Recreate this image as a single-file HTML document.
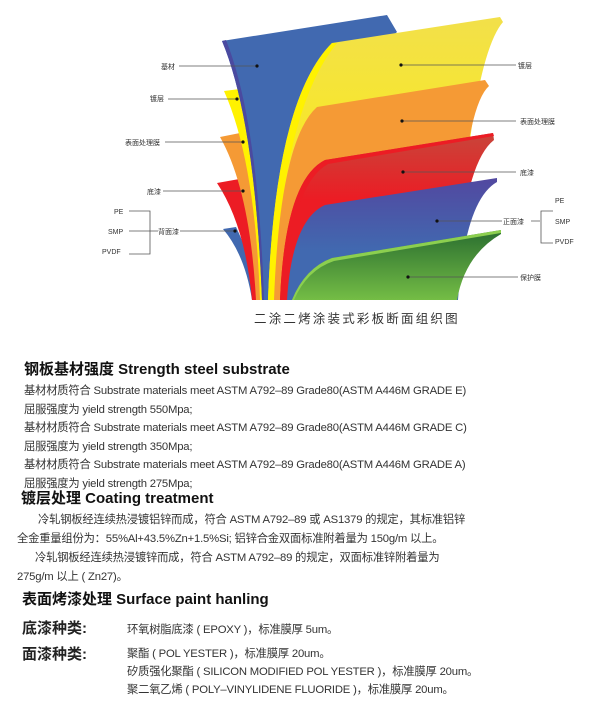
<!DOCTYPE html><html><head><meta charset="utf-8"><style>
body{margin:0;width:600px;height:728px;background:#fff;position:relative;overflow:hidden;font-family:"Liberation Sans","Noto Sans CJK SC",sans-serif;color:#222}
.t{position:absolute;white-space:nowrap}
.h{font-size:15px;font-weight:bold;color:#111}
.b{font-size:11.3px;color:#333;letter-spacing:-0.2px}
.k{font-size:15px;font-weight:bold}
</style></head><body>
<svg width="600" height="340" style="position:absolute;left:0;top:0">
<defs>
<linearGradient id="gr" x1="0" y1="0" x2="0" y2="1"><stop offset="0" stop-color="#c8453a"/><stop offset="0.4" stop-color="#ec1c24"/></linearGradient>
<linearGradient id="gb" x1="0" y1="0" x2="0" y2="1"><stop offset="0" stop-color="#5248a0"/><stop offset="0.6" stop-color="#4169b0"/></linearGradient>
<linearGradient id="gg" x1="0" y1="0" x2="0" y2="1"><stop offset="0" stop-color="#2a6e30"/><stop offset="1" stop-color="#74bd45"/></linearGradient>
<linearGradient id="gy" x1="0" y1="0" x2="0" y2="1"><stop offset="0" stop-color="#f2e04a"/><stop offset="1" stop-color="#fff200"/></linearGradient>
</defs>
<g stroke="none">
<path d="M223,229 L236,227 Q252,260 258,300 L252,300 Q245,255 223,229Z" fill="#4169b0"/>
<path d="M217,183 L245,178 Q258,240 262,300 L252,300 Q245,225 217,183Z" fill="#ec1c24"/>
<path d="M220,137 L245,132 Q262,220 265,300 L256,300 Q250,190 220,137Z" fill="#f59a35"/>
<path d="M224,91 L240,89 Q265,200 267,300 L260,300 Q255,160 224,91Z" fill="#fff200"/>
<path d="M222,41 L387,15 L397,32 Q300,120 270,300 L262,300 Q255,120 222,41Z" fill="#4169b0"/>
<path d="M222,41 L226,40 Q258,120 264,300 L262,300 Q255,120 222,41Z" fill="#4a4aa0"/>
<path d="M332,43 L500,17 L503,22 Q470,60 455,300 L268,300 Q275,100 332,43Z" fill="url(#gy)"/>
<path d="M332,43 L337,43 Q282,110 274,300 L268,300 Q275,100 332,43Z" fill="#fff200"/>
<path d="M317,107 L485,80 L489,86 Q462,110 455,300 L274,300 Q280,140 317,107Z" fill="#f59a35"/>
<path d="M325,160 L493,133 L494,140 Q462,165 456,300 L280,300 Q285,180 325,160Z" fill="url(#gr)"/>
<path d="M325,160 L493,133 L494,136 L328,164Z M325,160 Q285,180 280,300 L284,300 Q290,185 328,164Z" fill="#ec1c24"/>
<path d="M325,205 L497,178 L497,182 Q465,200 458,300 L287,300 Q292,220 325,205Z" fill="url(#gb)"/>
<path d="M332,258 L501,230 L501,234 Q465,255 457,300 L292,300 Q305,268 332,258Z" fill="url(#gg)"/>
<path d="M332,258 L501,230 L501,233 L334,261 Q307,270 294,300 L292,300 Q305,268 332,258Z" fill="#8ccf4f"/>
</g>
<g stroke="#555" stroke-width="0.8" fill="none">
<path d="M179,66H257M168,99H237M165,142H243M163,191H243M129,211H150V254H129M129,231H158M180,231H235"/>
<path d="M401,65H516M402,121H516M403,172H516M437,221H502M531,221H540M553,211H541V243H553"/>
<path d="M408,277H518"/>
</g>
<g fill="#111"><circle cx="257" cy="66" r="1.6"/><circle cx="237" cy="99" r="1.6"/><circle cx="243" cy="142" r="1.6"/><circle cx="243" cy="191" r="1.6"/><circle cx="235" cy="231" r="1.6"/><circle cx="401" cy="65" r="1.6"/><circle cx="402" cy="121" r="1.6"/><circle cx="403" cy="172" r="1.6"/><circle cx="437" cy="221" r="1.6"/><circle cx="408" cy="277" r="1.6"/></g>
<g font-size="7" fill="#333" font-family="Liberation Sans,Noto Sans CJK SC,sans-serif">
<text x="161" y="69">基材</text><text x="150" y="101">镀层</text><text x="125" y="145">表面处理膜</text><text x="147" y="194">底漆</text>
<text x="114" y="214">PE</text><text x="108" y="234">SMP</text><text x="102" y="254">PVDF</text><text x="158" y="234">背面漆</text>
<text x="518" y="68">镀层</text><text x="520" y="124">表面处理膜</text><text x="520" y="175">底漆</text><text x="503" y="224">正面漆</text>
<text x="555" y="203">PE</text><text x="555" y="224">SMP</text><text x="555" y="244">PVDF</text><text x="520" y="280">保护膜</text>
</g>
<text x="254" y="323" font-size="12.5" fill="#333" letter-spacing="2.2" font-family="Liberation Sans,Noto Sans CJK SC,sans-serif">二涂二烤涂装式彩板断面组织图</text>
</svg>
<div class="t h" style="left:24px;top:358px">钢板基材强度 Strength steel substrate</div>
<div class="t b" style="left:24px;top:382px">基材材质符合 Substrate materials meet ASTM A792–89 Grade80(ASTM A446M GRADE E)</div>
<div class="t b" style="left:24px;top:401px">屈服强度为 yield strength 550Mpa;</div>
<div class="t b" style="left:24px;top:419px">基材材质符合 Substrate materials meet ASTM A792–89 Grade80(ASTM A446M GRADE C)</div>
<div class="t b" style="left:24px;top:438px">屈服强度为 yield strength 350Mpa;</div>
<div class="t b" style="left:24px;top:456px">基材材质符合 Substrate materials meet ASTM A792–89 Grade80(ASTM A446M GRADE A)</div>
<div class="t b" style="left:24px;top:475px">屈服强度为 yield strength 275Mpa;</div>
<div class="t h" style="left:21px;top:487px">镀层处理 Coating treatment</div>
<div class="t b" style="left:38px;top:511px">冷轧钢板经连续热浸镀铝锌而成，符合 ASTM A792–89 或 AS1379 的规定，其标准铝锌</div>
<div class="t b" style="left:17px;top:530px">全金重量组份为：55%Al+43.5%Zn+1.5%Si; 铝锌合金双面标准附着量为 150g/m 以上。</div>
<div class="t b" style="left:35px;top:549px">冷轧钢板经连续热浸镀锌而成，符合 ASTM A792–89 的规定，双面标准锌附着量为</div>
<div class="t b" style="left:17px;top:568px">275g/m 以上 ( Zn27)。</div>
<div class="t h" style="left:22px;top:588px">表面烤漆处理 Surface paint hanling</div>
<div class="t k" style="left:22px;top:617px">底漆种类:</div>
<div class="t b" style="left:127px;top:621px">环氧树脂底漆 ( EPOXY )，标准膜厚 5um。</div>
<div class="t k" style="left:22px;top:643px">面漆种类:</div>
<div class="t b" style="left:127px;top:645px">聚酯 ( POL YESTER )，标准膜厚 20um。</div>
<div class="t b" style="left:127px;top:663px">矽质强化聚酯 ( SILICON MODIFIED POL YESTER )，标准膜厚 20um。</div>
<div class="t b" style="left:127px;top:681px">聚二氧乙烯 ( POLY–VINYLIDENE FLUORIDE )，标准膜厚 20um。</div>
</body></html>
